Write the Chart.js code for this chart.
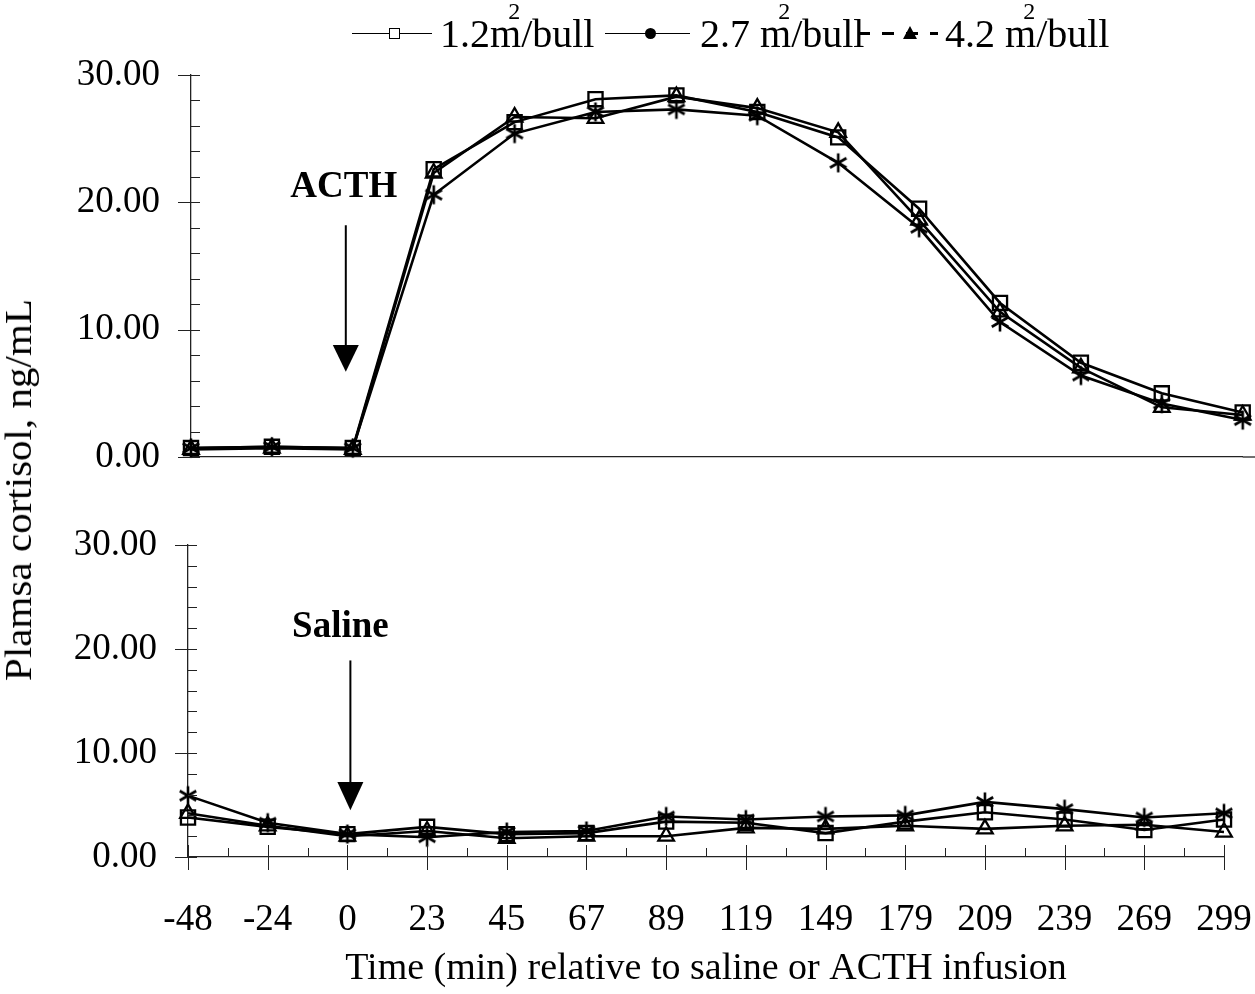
<!DOCTYPE html>
<html>
<head>
<meta charset="utf-8">
<title>Plasma cortisol</title>
<script src="https://cdn.jsdelivr.net/npm/chart.js@4.4.1/dist/chart.umd.min.js"></script>
<style>
body{margin:0;background:#fff;}
#pagina{position:relative;width:1255px;height:994px;overflow:hidden;font-family:"Liberation Serif","Times New Roman",serif;color:#000;}
canvas{position:absolute;left:0;}
#cTop{top:0;}
#cBot{top:500px;}
.linea{position:absolute;top:33px;height:1px;background:#000;}
.quadro{position:absolute;top:28px;width:9px;height:9px;border:1px solid #000;background:#fff;}
.punto{position:absolute;top:28px;width:11px;height:11px;border-radius:50%;background:#000;}
.tratteggio{position:absolute;top:32px;height:3px;background:repeating-linear-gradient(90deg,#000 0 12px,transparent 12px 24px);}
.triangolo{position:absolute;top:26px;width:0;height:0;border-left:7px solid transparent;border-right:7px solid transparent;border-bottom:13px solid #000;}
.testo{position:absolute;top:14px;font-size:40px;line-height:40px;white-space:nowrap;}
.sup{display:inline-block;width:0;position:relative;left:-13px;top:-28px;font-size:24px;}
#titoloY{position:absolute;left:-192px;top:468px;width:420px;height:44px;line-height:44px;text-align:center;font-size:38px;white-space:nowrap;transform:rotate(-90deg) scaleX(1.08);}
</style>
</head>
<body>
<div id="pagina">
  <canvas id="cTop" width="1255" height="480"></canvas>
  <canvas id="cBot" width="1255" height="494"></canvas>

  <!-- legenda -->
  <div class="linea" style="left:352px;width:80px;"></div>
  <div class="quadro" style="left:389px;"></div>
  <div class="testo" style="left:440px;">1.2m<span class="sup">2</span>/bull</div>
  <div class="linea" style="left:605px;width:85px;"></div>
  <div class="punto" style="left:645px;"></div>
  <div class="testo" style="left:700px;">2.7 m<span class="sup">2</span>/bull</div>
  <div class="tratteggio" style="left:858px;width:80px;"></div>
  <div class="triangolo" style="left:903px;"></div>
  <div class="testo" style="left:945px;">4.2 m<span class="sup">2</span>/bull</div>

  <div id="titoloY">Plamsa cortisol, ng/mL</div>
</div>

<script>
// tempi rispetto all'infusione (min)
var categorie = ['-48','-24','0','23','45','67','89','119','149','179','209','239','269','299'];

// pannello ACTH
var acth12 = [0.7, 0.8, 0.7, 22.6, 26.3, 28.1, 28.4, 27.1, 25.1, 19.5, 12.1, 7.4, 5.0, 3.5];
var acth27 = [0.7, 0.8, 0.7, 20.6, 25.4, 27.1, 27.3, 26.8, 23.1, 18.0, 10.6, 6.4, 4.2, 2.9];
var acth42 = [0.6, 0.7, 0.6, 22.3, 26.7, 26.6, 28.3, 27.4, 25.5, 18.6, 11.4, 7.0, 3.9, 3.3];

// pannello saline
var sal12 = [3.8, 2.9, 2.2, 2.9, 2.2, 2.3, 3.4, 3.3, 2.3, 3.4, 4.3, 3.6, 2.6, 3.6];
var sal27 = [5.9, 3.3, 2.2, 1.9, 2.4, 2.5, 3.9, 3.6, 3.9, 4.0, 5.3, 4.6, 3.8, 4.2];
var sal42 = [4.2, 3.0, 2.0, 2.5, 1.8, 2.0, 2.0, 2.8, 2.7, 3.0, 2.7, 3.0, 3.1, 2.4];

// asse y
var valoriAsseY = [0, 10, 20, 30];
var passoMinoreY = 2;

var FONT = '"Liberation Serif", "Times New Roman", serif';

function creaAsterisco(){
    let c = document.createElement('canvas');
    c.width = 22; c.height = 22;
    let g = c.getContext('2d');
    g.strokeStyle = '#000';
    g.lineWidth = 2.6;
    for (let a of [90, 30, 150]) {
        let r = a * Math.PI / 180;
        g.beginPath();
        g.moveTo(11 - 9.5 * Math.cos(r), 11 - 9.5 * Math.sin(r));
        g.lineTo(11 + 9.5 * Math.cos(r), 11 + 9.5 * Math.sin(r));
        g.stroke();
    }
    return c;
}
var asterisco = creaAsterisco();

function serie(dati, stile, raggio){
    return {
        data: dati,
        borderColor: '#000',
        borderWidth: 2.6,
        tension: 0,
        fill: false,
        clip: false,
        pointStyle: stile,
        pointRadius: raggio,
        pointBorderColor: '#000',
        pointBorderWidth: 2.3,
        pointBackgroundColor: 'rgba(0,0,0,0)'
    };
}

// tacche, frecce e scritte
var pluginAssi = {
    id: 'assi',
    afterDraw(chart, args, opz) {
        let ctx = chart.ctx, area = chart.chartArea;
        let sx = chart.scales.x, sy = chart.scales.y;
        ctx.save();
        ctx.strokeStyle = '#222';
        ctx.lineWidth = 1;
        ctx.beginPath();
        for (let v = sy.min; v <= sy.max; v += passoMinoreY) {
            let py = Math.round(sy.getPixelForValue(v)) + 0.5;
            let maggiore = valoriAsseY.includes(v);
            ctx.moveTo(area.left - (maggiore ? 13 : 0), py);
            ctx.lineTo(area.left + 9, py);
        }
        if (opz.tickX) {
            let n = categorie.length;
            for (let i = 0; i < n; i++) {
                let px = Math.round(sx.getPixelForValue(i)) + 0.5;
                ctx.moveTo(px, area.bottom - 12);
                ctx.lineTo(px, area.bottom + 13);
                if (i < n - 1) {
                    let pm = Math.round((sx.getPixelForValue(i) + sx.getPixelForValue(i + 1)) / 2) + 0.5;
                    ctx.moveTo(pm, area.bottom - 9);
                    ctx.lineTo(pm, area.bottom);
                }
            }
        }
        ctx.stroke();
        if (opz.estendiX) {
            // l'asse x del pannello alto arriva fino al bordo
            ctx.lineWidth = 1.3;
            ctx.beginPath();
            ctx.moveTo(area.right, area.bottom);
            ctx.lineTo(chart.width, area.bottom);
            ctx.stroke();
        }

        let nota = opz.nota;
        let ax = sx.getPixelForValue(nota.indice) + nota.dxFreccia;
        ctx.strokeStyle = '#000';
        ctx.lineWidth = 2;
        ctx.beginPath();
        ctx.moveTo(ax, sy.getPixelForValue(nota.yInizio));
        ctx.lineTo(ax, sy.getPixelForValue(nota.yTesta) + 2);
        ctx.stroke();
        ctx.fillStyle = '#000';
        ctx.beginPath();
        ctx.moveTo(ax - 13, sy.getPixelForValue(nota.yTesta));
        ctx.lineTo(ax + 13, sy.getPixelForValue(nota.yTesta));
        ctx.lineTo(ax, sy.getPixelForValue(nota.yPunta));
        ctx.closePath();
        ctx.fill();

        ctx.font = 'bold 37px ' + FONT;
        ctx.textAlign = 'center';
        ctx.textBaseline = 'alphabetic';
        ctx.fillText(nota.testo, sx.getPixelForValue(nota.indice) + nota.dxTesto, sy.getPixelForValue(nota.yTesto));
        ctx.restore();
    }
};

function opzioni(conEtichetteX, largY, altX, padding, opzAssi){
    return {
        responsive: false,
        animation: false,
        devicePixelRatio: 1,
        events: [],
        layout: { padding: padding },
        plugins: {
            legend: { display: false },
            tooltip: { enabled: false },
            assi: opzAssi
        },
        scales: {
            x: {
                type: 'category',
                offset: false,
                grid: { display: false, drawTicks: false },
                border: { display: true, color: '#222', width: 1.3 },
                ticks: {
                    display: conEtichetteX,
                    autoSkip: false,
                    maxRotation: 0,
                    padding: 41,
                    color: '#000',
                    font: { family: FONT, size: 37 }
                },
                title: {
                    display: conEtichetteX,
                    text: 'Time (min) relative to saline or ACTH infusion',
                    color: '#000',
                    padding: { top: 0, bottom: 2 },
                    font: { family: FONT, size: 38 }
                },
                afterFit: function(s){
                    s.height = altX;
                    s.paddingLeft = 0;
                    s.paddingRight = 0;
                }
            },
            y: {
                min: valoriAsseY[0],
                max: valoriAsseY[valoriAsseY.length - 1],
                grid: { display: false, drawTicks: false },
                border: { display: true, color: '#222', width: 1.3 },
                ticks: {
                    stepSize: 10,
                    padding: 31,
                    color: '#000',
                    font: { family: FONT, size: 37 },
                    callback: function(v){ return Number(v).toFixed(2); }
                },
                afterFit: function(s){
                    s.width = largY;
                    s.paddingTop = 0;
                    s.paddingBottom = 0;
                }
            }
        }
    };
}

var graficoAlto = new Chart(document.getElementById('cTop'), {
    type: 'line',
    data: {
        labels: categorie,
        datasets: [
            serie(acth12, 'rect', 10),
            serie(acth27, asterisco, 8),
            serie(acth42, 'triangle', 9)
        ]
    },
    options: opzioni(false, 191, 23, { top: 75, right: 3, left: 0, bottom: 0 }, {
        tickX: false,
        estendiX: true,
        nota: { indice: 2, dxFreccia: -7, dxTesto: -9, testo: 'ACTH',
                yTesto: 20.4, yInizio: 18.2, yTesta: 8.8, yPunta: 6.7 }
    }),
    plugins: [pluginAssi]
});

var graficoBasso = new Chart(document.getElementById('cBot'), {
    type: 'line',
    data: {
        labels: categorie,
        datasets: [
            serie(sal12, 'rect', 10),
            serie(sal27, asterisco, 8),
            serie(sal42, 'triangle', 9)
        ]
    },
    options: opzioni(true, 188, 137, { top: 45, right: 31, left: 0, bottom: 0 }, {
        tickX: true,
        estendiX: false,
        nota: { indice: 2, dxFreccia: 3, dxTesto: -7, testo: 'Saline',
                yTesto: 21.2, yInizio: 18.9, yTesta: 7.2, yPunta: 4.5 }
    }),
    plugins: [pluginAssi]
});
</script>
</body>
</html>
